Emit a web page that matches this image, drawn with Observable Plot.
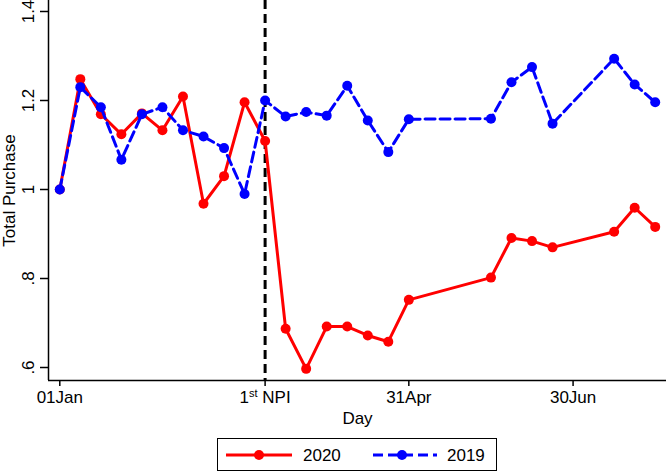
<!DOCTYPE html>
<html>
<head>
<meta charset="utf-8">
<script src="https://cdn.jsdelivr.net/npm/d3@7"></script>
<script src="https://cdn.jsdelivr.net/npm/@observablehq/plot@0.6"></script>
<style>
  html, body { margin: 0; padding: 0; background: #fff; }
  body { width: 666px; height: 472px; position: relative; overflow: hidden; font-family: "Liberation Sans", Arial, sans-serif; }
  #legend { position: absolute; left: 217px; top: 438px; width: 280px; height: 33px; box-sizing: border-box; border: 1.5px solid #000; background: #fff; }
</style>
</head>
<body>
<div id="chart"></div>
<div id="legend"></div>
<script>
// Period index (x)
const periods = [0,1,2,3,4,5,6,7,8,9,10,11,12,13,14,15,16,17,21,22,23,24,27,28,29];
const values2020 = [1.000,1.248,1.169,1.124,1.171,1.133,1.209,0.968,1.030,1.196,1.109,0.687,0.597,0.692,0.692,0.672,0.658,0.752,0.802,0.891,0.884,0.870,0.905,0.959,0.916];
const values2019 = [1.000,1.230,1.185,1.067,1.169,1.185,1.133,1.119,1.093,0.990,1.200,1.164,1.174,1.166,1.233,1.155,1.084,1.158,1.159,1.241,1.275,1.148,1.294,1.236,1.196];
const xTickValues = [0, 10, 17, 25];
const xTickLabels = ["01Jan", "1st NPI", "31Apr", "30Jun"];
const yTickValues = [0.6, 0.8, 1.0, 1.2, 1.4];
const npiPeriod = 10;
const seriesNames = ["2020", "2019"];
const seriesColors = ["#ff0000", "#0000ff"];

const xDomain = [-0.55, 29.55];
const yDomain = [0.5708, 1.4247];

const d2020 = periods.map((p, i) => ({x: p, y: values2020[i]}));
const d2019 = periods.map((p, i) => ({x: p, y: values2019[i]}));

const chart = Plot.plot({
  width: 666,
  height: 432,
  marginLeft: 48,
  marginRight: 0,
  marginTop: 0,
  marginBottom: 52,
  style: {fontFamily: "'Liberation Sans', Arial, sans-serif", fontSize: "17px", color: "#000", background: "#fff"},
  x: {domain: xDomain},
  y: {domain: yDomain},
  marks: [
    Plot.axisX({ticks: xTickValues, tickFormat: d => xTickLabels[xTickValues.indexOf(d)], tickSize: 6, tickPadding: 4,
      strokeWidth: 1.5, label: "Day", labelAnchor: "center", labelArrow: false, labelOffset: 43, fontSize: 17}),
    Plot.axisY({ticks: yTickValues, tickFormat: d => d === 1 ? "1" : d3.format(".1f")(d).replace(/^0/, ""),
      tickSize: 8, tickPadding: 7, tickRotate: -90, strokeWidth: 1.5,
      label: "Total Purchase", labelAnchor: "center", labelArrow: false, labelOffset: 46, fontSize: 17}),
    Plot.ruleX([xDomain[0]], {stroke: "#000", strokeWidth: 1.5}),
    Plot.ruleY([yDomain[0]], {stroke: "#000", strokeWidth: 1.5}),
    Plot.ruleX([npiPeriod], {stroke: "#000", strokeWidth: 3, strokeDasharray: "9,5"}),
    Plot.line(d2020, {x: "x", y: "y", stroke: seriesColors[0], strokeWidth: 3}),
    Plot.dot(d2020, {x: "x", y: "y", r: 5, fill: seriesColors[0]}),
    Plot.line(d2019, {x: "x", y: "y", stroke: seriesColors[1], strokeWidth: 3, strokeDasharray: "10,5"}),
    Plot.dot(d2019, {x: "x", y: "y", r: 5, fill: seriesColors[1]})
  ]
});
document.getElementById("chart").appendChild(chart);

// superscript for "1st NPI"
chart.querySelectorAll("text").forEach(t => {
  if (t.textContent === "1st NPI") {
    t.textContent = "";
    const ns = "http://www.w3.org/2000/svg";
    const a = document.createElementNS(ns, "tspan"); a.textContent = "1";
    const b = document.createElementNS(ns, "tspan"); b.textContent = "st"; b.setAttribute("dy", "-6"); b.setAttribute("font-size", "11");
    const c = document.createElementNS(ns, "tspan"); c.textContent = "\u00a0NPI"; c.setAttribute("dy", "6");
    t.append(a, b, c);
  }
});

// legend
const lg = d3.select("#legend").append("svg").attr("width", 277).attr("height", 30);
const items = [
  {x0: 8, x1: 74, dot: 41, tx: 85, dash: null},
  {x0: 155, x1: 219, dot: 184, tx: 229, dash: "10,5"}
];
items.forEach((it, i) => {
  lg.append("line").attr("x1", it.x0).attr("x2", it.x1).attr("y1", 16).attr("y2", 16)
    .attr("stroke", seriesColors[i]).attr("stroke-width", 3).attr("stroke-dasharray", it.dash);
  lg.append("circle").attr("cx", it.dot).attr("cy", 16).attr("r", 5).attr("fill", seriesColors[i]);
  lg.append("text").attr("x", it.tx).attr("y", 22).attr("font-size", 17)
    .attr("font-family", "'Liberation Sans', Arial, sans-serif").text(seriesNames[i]);
});
</script>
</body>
</html>
